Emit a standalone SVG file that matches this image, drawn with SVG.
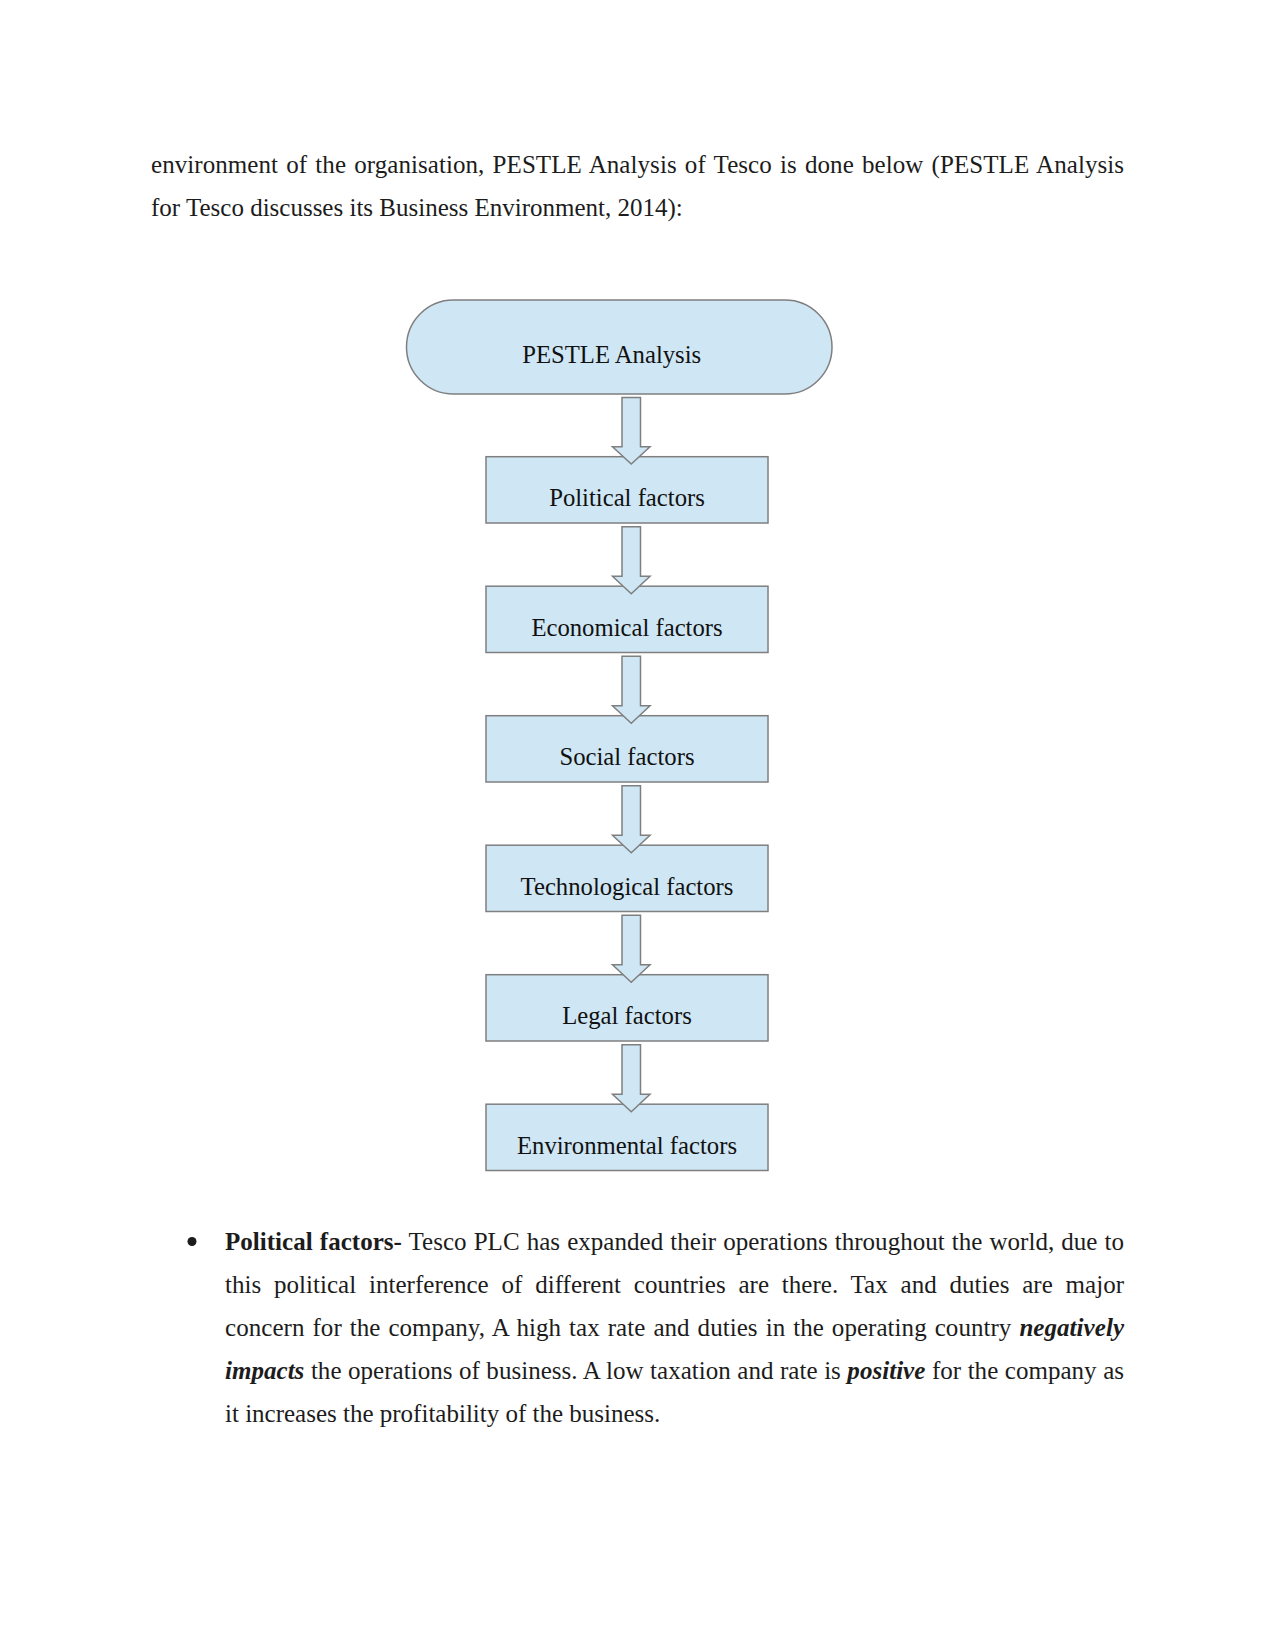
<svg xmlns="http://www.w3.org/2000/svg" width="1275" height="1651" viewBox="0 0 1275 1651">
<style>
.body{font-family:"Liberation Serif","Times New Roman",serif;font-size:25px;fill:#1c1c1c}
.b{font-weight:bold}
.bi{font-weight:bold;font-style:italic}
.node{fill:#cfe6f4;stroke:#7f7f7f;stroke-width:1.5}
.lbl{font-family:"Liberation Serif","Times New Roman",serif;font-size:24.7px;fill:#111;text-anchor:middle}
.arrow{fill:#cfe6f4;stroke:#7f7f7f;stroke-width:1.5;stroke-linejoin:miter}
</style>
<rect width="1275" height="1651" fill="#ffffff"/>
<text class="body" x="151" y="173" word-spacing="1.87" textLength="973" lengthAdjust="spacing">environment of the organisation, PESTLE Analysis of Tesco is done below (PESTLE Analysis</text>
<text class="body" x="151" y="216">for Tesco discusses its Business Environment, 2014):</text>

<g id="node-pestle">
<rect class="node" x="406.5" y="300" width="425.5" height="94" rx="47" ry="47"/>
<text class="lbl" x="611.7" y="362.7">PESTLE Analysis</text>
</g>
<g id="node-political">
<rect class="node" x="486" y="456.7" width="282" height="66.3"/>
<text class="lbl" x="627" y="506">Political factors</text>
</g>
<g id="node-economical">
<rect class="node" x="486" y="586.2" width="282" height="66.3"/>
<text class="lbl" x="627" y="635.5">Economical factors</text>
</g>
<g id="node-social">
<rect class="node" x="486" y="715.7" width="282" height="66.3"/>
<text class="lbl" x="627" y="765">Social factors</text>
</g>
<g id="node-technological">
<rect class="node" x="486" y="845.2" width="282" height="66.3"/>
<text class="lbl" x="627" y="894.5">Technological factors</text>
</g>
<g id="node-legal">
<rect class="node" x="486" y="974.7" width="282" height="66.3"/>
<text class="lbl" x="627" y="1024">Legal factors</text>
</g>
<g id="node-environmental">
<rect class="node" x="486" y="1104.2" width="282" height="66.3"/>
<text class="lbl" x="627" y="1153.5">Environmental factors</text>
</g>

<g id="connectors">
<path class="arrow" d="M622 397.5 H640.5 V446.7 H650 L631.25 464 L612.5 446.7 H622 Z"/>
<path class="arrow" d="M622 526.7 H640.5 V576.2 H650 L631.25 593.7 L612.5 576.2 H622 Z"/>
<path class="arrow" d="M622 656.2 H640.5 V705.7 H650 L631.25 723.2 L612.5 705.7 H622 Z"/>
<path class="arrow" d="M622 785.7 H640.5 V835.2 H650 L631.25 852.7 L612.5 835.2 H622 Z"/>
<path class="arrow" d="M622 915.2 H640.5 V964.7 H650 L631.25 982.2 L612.5 964.7 H622 Z"/>
<path class="arrow" d="M622 1044.7 H640.5 V1094.2 H650 L631.25 1111.7 L612.5 1094.2 H622 Z"/>
</g>

<circle cx="192" cy="1241.5" r="4.5" fill="#1c1c1c"/>
<text class="body" x="225" y="1250" word-spacing="0.8" textLength="899" lengthAdjust="spacing"><tspan class="b">Political factors-</tspan> Tesco PLC has expanded their operations throughout the world, due to</text>
<text class="body" x="225" y="1293" word-spacing="6.5" textLength="899" lengthAdjust="spacing">this political interference of different countries are there. Tax and duties are major</text>
<text class="body" x="225" y="1336" word-spacing="1.68" textLength="899" lengthAdjust="spacing">concern for the company, A high tax rate and duties in the operating country <tspan class="bi">negatively</tspan></text>
<text class="body" x="225" y="1379" word-spacing="0.22" textLength="899" lengthAdjust="spacing"><tspan class="bi">impacts</tspan> the operations of business. A low taxation and rate is <tspan class="bi">positive</tspan> for the company as</text>
<text class="body" x="225" y="1422">it increases the profitability of the business.</text>
</svg>
